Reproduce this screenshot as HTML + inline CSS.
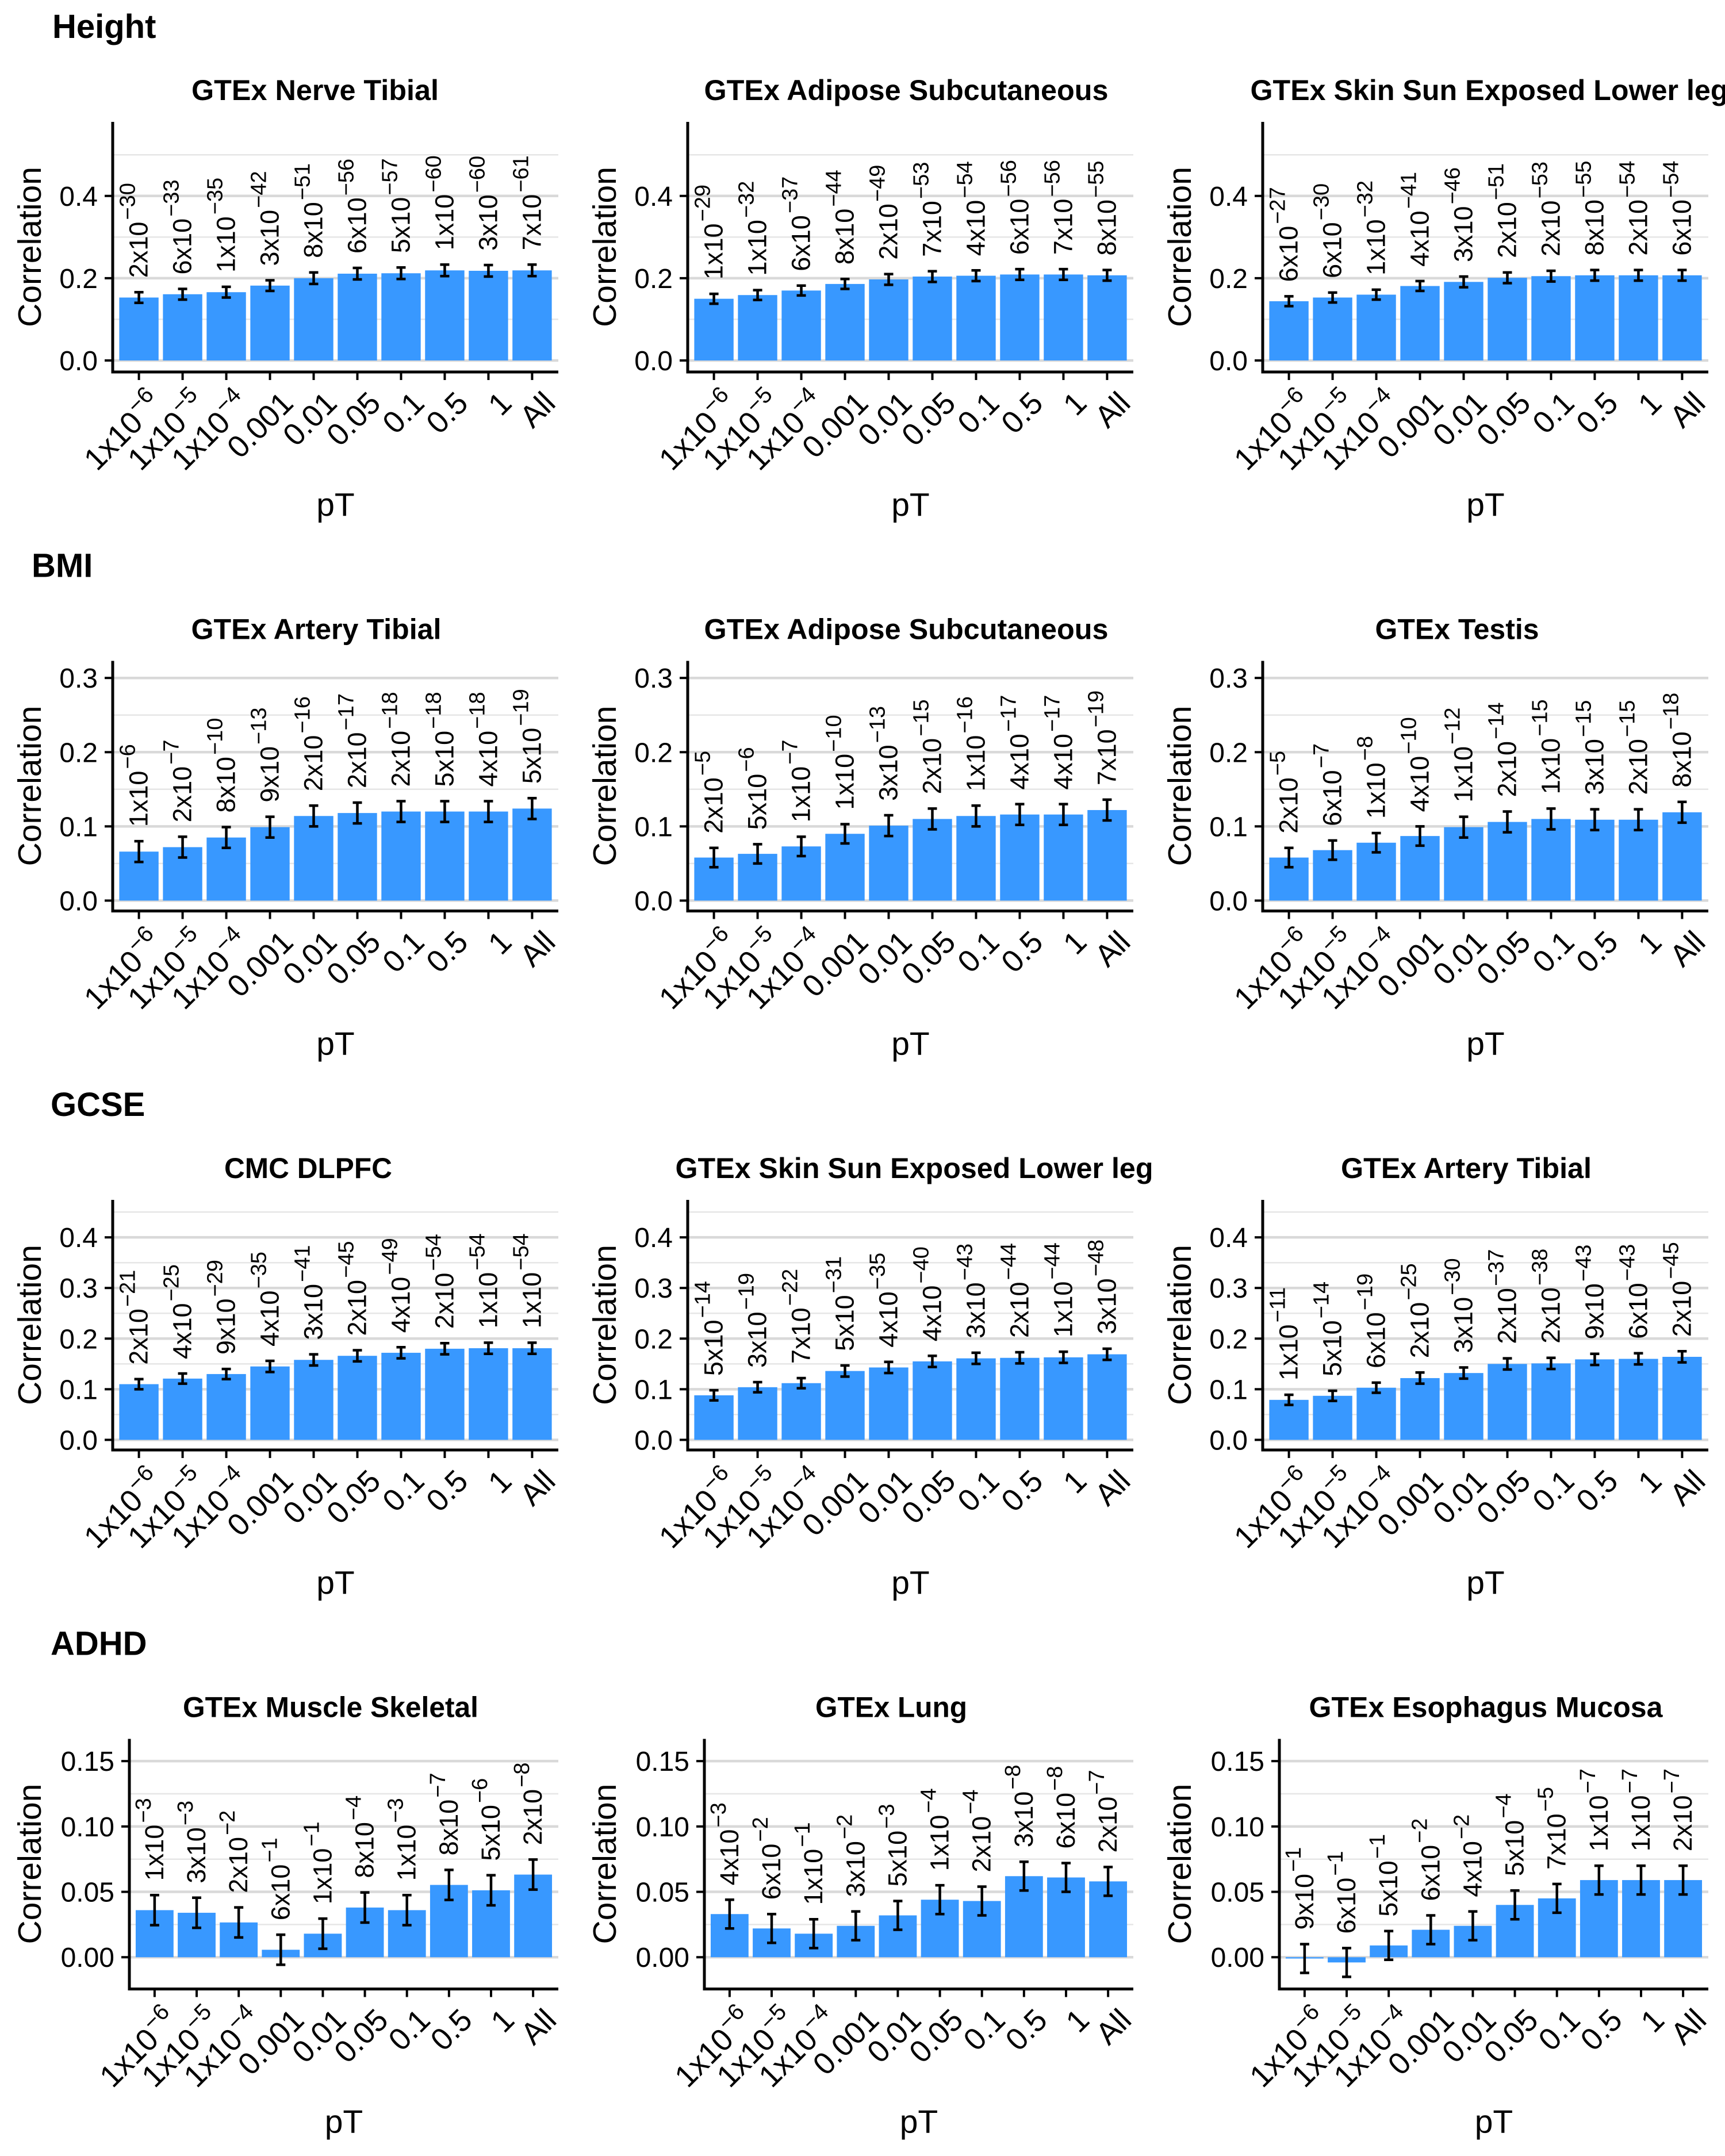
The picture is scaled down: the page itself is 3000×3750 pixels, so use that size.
<!DOCTYPE html>
<html><head><meta charset="utf-8"><style>
html,body{margin:0;padding:0;background:#fff}
svg{display:block}
text{font-family:"Liberation Sans",Arial,sans-serif;fill:#000}
</style></head><body>
<svg id="fig" xmlns="http://www.w3.org/2000/svg" width="3000" height="3750" viewBox="0 0 3000 3750"></svg>
<script>
const categories = ["1x10^−6","1x10^−5","1x10^−4","0.001","0.01","0.05","0.1","0.5","1","All"];
const rowHeadings = ["Height","BMI","GCSE","ADHD"];
const panelTitles = ["GTEx Nerve Tibial","GTEx Adipose Subcutaneous","GTEx Skin Sun Exposed Lower leg",
 "GTEx Artery Tibial","GTEx Adipose Subcutaneous","GTEx Testis",
 "CMC DLPFC","GTEx Skin Sun Exposed Lower leg","GTEx Artery Tibial",
 "GTEx Muscle Skeletal","GTEx Lung","GTEx Esophagus Mucosa"];
const barValues = [
 [0.153,0.161,0.166,0.182,0.200,0.211,0.212,0.219,0.218,0.219],
 [0.150,0.159,0.170,0.186,0.197,0.204,0.206,0.209,0.209,0.207],
 [0.144,0.153,0.160,0.181,0.191,0.201,0.205,0.207,0.207,0.207],
 [0.066,0.072,0.085,0.099,0.114,0.118,0.120,0.120,0.120,0.124],
 [0.058,0.063,0.073,0.090,0.101,0.110,0.114,0.116,0.116,0.122],
 [0.058,0.068,0.078,0.087,0.099,0.106,0.110,0.109,0.109,0.119],
 [0.110,0.121,0.130,0.145,0.158,0.166,0.172,0.180,0.181,0.181],
 [0.088,0.104,0.112,0.136,0.143,0.155,0.161,0.162,0.163,0.169],
 [0.079,0.087,0.103,0.122,0.132,0.150,0.151,0.159,0.160,0.164],
 [0.036,0.034,0.0266,0.0057,0.018,0.038,0.036,0.0553,0.0512,0.0632],
 [0.033,0.022,0.018,0.024,0.032,0.044,0.043,0.062,0.061,0.058],
 [-0.001,-0.004,0.009,0.021,0.024,0.040,0.045,0.059,0.059,0.059]
];
const errHalf = [
 [0.013,0.013,0.013,0.013,0.014,0.014,0.014,0.014,0.014,0.014],
 [0.012,0.012,0.012,0.012,0.013,0.013,0.013,0.013,0.013,0.013],
 [0.012,0.012,0.012,0.012,0.013,0.013,0.013,0.013,0.013,0.013],
 [0.014,0.014,0.014,0.014,0.014,0.014,0.014,0.014,0.014,0.014],
 [0.013,0.013,0.013,0.013,0.014,0.014,0.014,0.014,0.014,0.014],
 [0.013,0.013,0.013,0.013,0.014,0.014,0.014,0.014,0.014,0.014],
 [0.010,0.010,0.010,0.011,0.011,0.011,0.011,0.011,0.011,0.011],
 [0.010,0.010,0.010,0.011,0.011,0.011,0.011,0.011,0.011,0.011],
 [0.010,0.010,0.010,0.011,0.011,0.011,0.011,0.011,0.011,0.011],
 [0.0115,0.0115,0.0115,0.0115,0.0115,0.0115,0.0115,0.0115,0.0115,0.0115],
 [0.011,0.011,0.011,0.011,0.011,0.011,0.011,0.011,0.011,0.011],
 [0.011,0.011,0.011,0.011,0.011,0.011,0.011,0.011,0.011,0.011]
];
const pMant = [
 [2,6,1,3,8,6,5,1,3,7],[1,1,6,8,2,7,4,6,7,8],[6,6,1,4,3,2,2,8,2,6],
 [1,2,8,9,2,2,2,5,4,5],[2,5,1,1,3,2,1,4,4,7],[2,6,1,4,1,2,1,3,2,8],
 [2,4,9,4,3,2,4,2,1,1],[5,3,7,5,4,4,3,2,1,3],[1,5,6,2,3,2,2,9,6,2],
 [1,3,2,6,1,8,1,8,5,2],[4,6,1,3,5,1,2,3,6,2],[9,6,5,6,4,5,7,1,1,2]
];
const pExp = [
 [30,33,35,42,51,56,57,60,60,61],[29,32,37,44,49,53,54,56,56,55],[27,30,32,41,46,51,53,55,54,54],
 [6,7,10,13,16,17,18,18,18,19],[5,6,7,10,13,15,16,17,17,19],[5,7,8,10,12,14,15,15,15,18],
 [21,25,29,35,41,45,49,54,54,54],[14,19,22,31,35,40,43,44,44,48],[11,14,19,25,30,37,38,43,43,45],
 [3,3,2,1,1,4,3,7,6,8],[3,2,1,2,3,4,4,8,8,7],[1,1,1,2,2,4,5,7,7,7]
];
const yDomains = [[-0.028,0.58],[-0.014,0.323],[-0.02,0.474],[-0.0243,0.167]];
const yMajor = [[0,0.2,0.4],[0,0.1,0.2,0.3],[0,0.1,0.2,0.3,0.4],[0,0.05,0.1,0.15]];
const yMajorLabels = [["0.0","0.2","0.4"],["0.0","0.1","0.2","0.3"],["0.0","0.1","0.2","0.3","0.4"],["0.00","0.05","0.10","0.15"]];
const yMinor = [[0.1,0.3,0.5],[0.05,0.15,0.25],[0.05,0.15,0.25,0.35,0.45],[0.025,0.075,0.125]];

const titleCenters = [548,1576,2590, 550,1576,2534, 536,1590,2550, 575,1550,2584];
const titleWidths = [430,703,831, 435,703,285, 292,831,436, 514,264,615];
const headingX = [91,55,88,88];

const NS="http://www.w3.org/2000/svg";
const svg=document.getElementById('fig');
function mk(tag,attrs,parent){const e=document.createElementNS(NS,tag);for(const k in attrs)e.setAttribute(k,attrs[k]);(parent||svg).appendChild(e);return e;}
function addSup(t,main,sup,supSize,shift,gap){
  const a=document.createElementNS(NS,'tspan');a.textContent=main;t.appendChild(a);
  if(sup!==null){const b=document.createElementNS(NS,'tspan');b.setAttribute('font-size',supSize);b.setAttribute('dy',-shift);b.setAttribute('dx',gap);b.textContent=sup;t.appendChild(b);}
}

const ROWH=937.5, TOP=212, BOT=647;
for(let r=0;r<4;r++){
  const oy=r*ROWH;
  const h=mk('text',{x:headingX[r],y:oy+66,'font-size':58,'font-weight':'bold'});
  
  
  h.textContent=rowHeadings[r];
  const [d0,d1]=yDomains[r];
  const yS=v=>oy+BOT-(v-d0)/(d1-d0)*(BOT-TOP);
  for(let c=0;c<3;c++){
    const p=r*3+c, ox=c*1000;
    const ax=ox+(r===3?225:196), rx=ox+971;
    const g=mk('g',{});
    
    
    const xS=i=>ax+(i+0.6)*(rx-ax)/10.2;
    const bw=0.9*(rx-ax)/10.2;
    const t=mk('text',{x:titleCenters[p],y:oy+174,'font-size':50,'font-weight':'bold','text-anchor':'middle',textLength:titleWidths[p],lengthAdjust:'spacingAndGlyphs'},g);
    
    
    t.textContent=panelTitles[p];
    yMinor[r].forEach(v=>{const l=mk('line',{x1:ax,x2:rx,y1:yS(v),y2:yS(v),stroke:'#e6e6e6','stroke-width':2.5},g);
      });
    yMajor[r].forEach((v,k)=>{const l=mk('line',{x1:ax,x2:rx,y1:yS(v),y2:yS(v),stroke:'#d9d9d9','stroke-width':4.5},g);
      
      const tk=mk('line',{x1:ax-14,x2:ax,y1:yS(v),y2:yS(v),stroke:'#000','stroke-width':4},g);
      
      const lb=mk('text',{x:ax-26,y:yS(v)+17,'font-size':48,'text-anchor':'end'},g);
      
      lb.textContent=yMajorLabels[r][k];});
    barValues[p].forEach((v,i)=>{
      const y0=yS(0), y1=yS(v);
      const b=mk('rect',{x:xS(i)-bw/2,y:Math.min(y0,y1),width:bw,height:Math.abs(y0-y1),fill:'#3898ff'},g);
      
      const e=errHalf[p][i], yt=yS(v+e), yb=yS(v-e), cx=xS(i);
      const eb=mk('path',{d:`M${cx-8},${yt}H${cx+8}M${cx},${yt}V${yb}M${cx-8},${yb}H${cx+8}`,stroke:'#000','stroke-width':4.5,fill:'none'},g);
      
      const ly=yt-25;
      const lt=mk('text',{x:0,y:0,'font-size':45,transform:`translate(${cx+15},${ly}) rotate(-90)`},g);
      
      addSup(lt,pMant[p][i]+'x10','−'+pExp[p][i],38,22,3);
    });
    const axl=mk('path',{d:`M${ax},${oy+TOP}V${oy+BOT}H${rx}`,stroke:'#000','stroke-width':5,fill:'none'},g);
    
    categories.forEach((cat,i)=>{
      const cx=xS(i);
      const tk=mk('line',{x1:cx,x2:cx,y1:oy+BOT,y2:oy+BOT+14,stroke:'#000','stroke-width':4},g);
      
      const lb=mk('text',{x:0,y:0,'font-size':54,'text-anchor':'end',transform:`translate(${cx+16},${oy+BOT+30}) rotate(-45)`,dy:'0.72em'},g);
      
      const parts=cat.split('^');
      addSup(lb,parts[0],parts.length>1?parts[1]:null,40,22,2);
    });
    const yt=mk('text',{x:0,y:0,'font-size':57,'text-anchor':'middle',transform:`translate(${ox+71},${oy+(TOP+BOT)/2}) rotate(-90)`},g);
    
    yt.textContent='Correlation';
    const xt=mk('text',{x:(ax+rx)/2,y:oy+897,'font-size':57,'text-anchor':'middle'},g);
    
    xt.textContent='pT';
  }
}
</script>
</body></html>
